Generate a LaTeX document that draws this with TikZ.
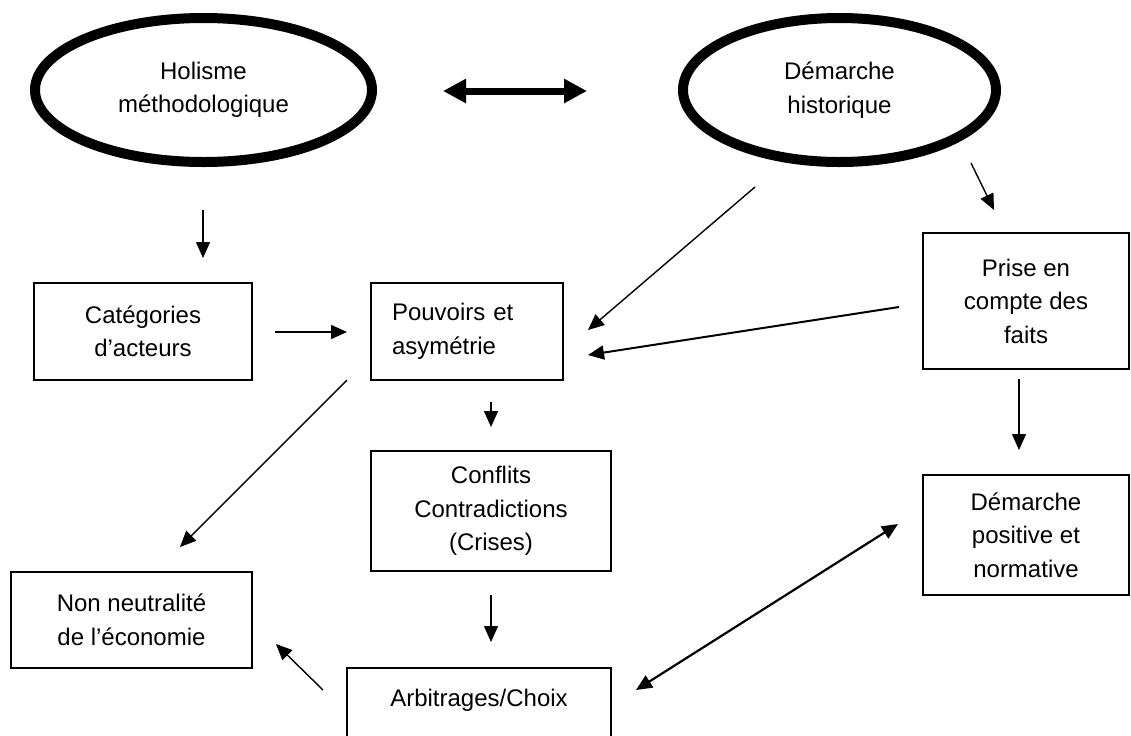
\documentclass[tikz,border=0pt]{standalone}
\usepackage{fontspec}
\setmainfont{Liberation Sans}
\usetikzlibrary{shapes.geometric,arrows.meta}
\newcommand\lab{\fontsize{12}{16.75}\selectfont}
\begin{document}
\begin{tikzpicture}[x=0.5pt,y=-0.5pt,
 box/.style={draw, line width=1pt, rectangle, inner sep=0pt, align=center, font=\lab},
 ell/.style={draw, ellipse, line width=5pt, inner sep=0pt, align=center, font=\lab},
 arr/.style={-{Triangle[length=8pt,width=7pt]}, line width=0.7pt},
 arrb/.style={-{Triangle[length=8pt,width=7pt]}, line width=1pt},
 darr/.style={{Triangle[length=8pt,width=7pt]}-{Triangle[length=8pt,width=7pt]}, line width=1.1pt},
 big/.style={{Triangle[length=11.5pt,width=11.5pt]}-{Triangle[length=11.5pt,width=11.5pt]}, line width=3.5pt}]
\useasboundingbox (0,0) rectangle (1131,735);
\clip (0,0) rectangle (1131,735);

\node[ell, minimum width=168.5pt, minimum height=72pt] (hol) at (203.5,90) {Holisme\\méthodologique};
\node[ell, minimum width=156.5pt, minimum height=72pt] (dh) at (839.5,90) {Démarche\\historique};
\node[box, minimum width=109pt, minimum height=48.5pt] (cat) at (143,331.5) {Catégories\\d’acteurs};
\node[box, minimum width=96pt, minimum height=48.5pt, text width=75pt, align=left] (pou) at (467,331.5) {Pouvoirs et\\asymétrie};
\node[box, minimum width=103pt, minimum height=68pt] (pri) at (1026,301) {Prise en\\compte des\\faits};
\node[box, minimum width=103pt, minimum height=60pt] (dpn) at (1026,535) {Démarche\\positive et\\normative};
\node[box, minimum width=120pt, minimum height=60pt] (con) at (491,511) {Conflits\\Contradictions\\(Crises)};
\node[box, minimum width=120.5pt, minimum height=48pt] (non) at (131.5,620) {Non neutralité\\de l’économie};
\node[box, minimum width=132pt, anchor=north, text height=19pt, text depth=35pt] (arb) at (479,667) {Arbitrages/Choix};

% free ends of connectors
\coordinate (hcs) at (203,210);  \coordinate (hce) at (203,258);
\coordinate (cps) at (275,332);  \coordinate (cpe) at (347,332);
\coordinate (hds) at (443,91);   \coordinate (hde) at (587,91);
\coordinate (dps) at (755,187);  \coordinate (dpe) at (588,330);
\coordinate (drs) at (971,163);  \coordinate (dre) at (994,210);
\coordinate (rps) at (899,307);  \coordinate (rpe) at (588,355);
\coordinate (pcs) at (491,402);  \coordinate (pce) at (491,427);
\coordinate (pns) at (347,380);  \coordinate (pne) at (180,547);
\coordinate (cas) at (491,595);  \coordinate (cae) at (491,642);
\coordinate (rds) at (1019,379); \coordinate (rde) at (1019,450);
\coordinate (ans) at (323,690);  \coordinate (ane) at (276,644);
\coordinate (ads) at (636,690);  \coordinate (ade) at (898,524);

\draw[big] (hds) -- (hde);
\draw[arr] (hcs) -- (hce);
\draw[arr] (cps) -- (cpe);
\draw[arr] (dps) -- (dpe);
\draw[arr] (drs) -- (dre);
\draw[arrb] (rps) -- (rpe);
\draw[arr] (pcs) -- (pce);
\draw[arr] (pns) -- (pne);
\draw[arr] (cas) -- (cae);
\draw[arr] (rds) -- (rde);
\draw[arr] (ans) -- (ane);
\draw[darr] (ads) -- (ade);
\end{tikzpicture}
\end{document}
